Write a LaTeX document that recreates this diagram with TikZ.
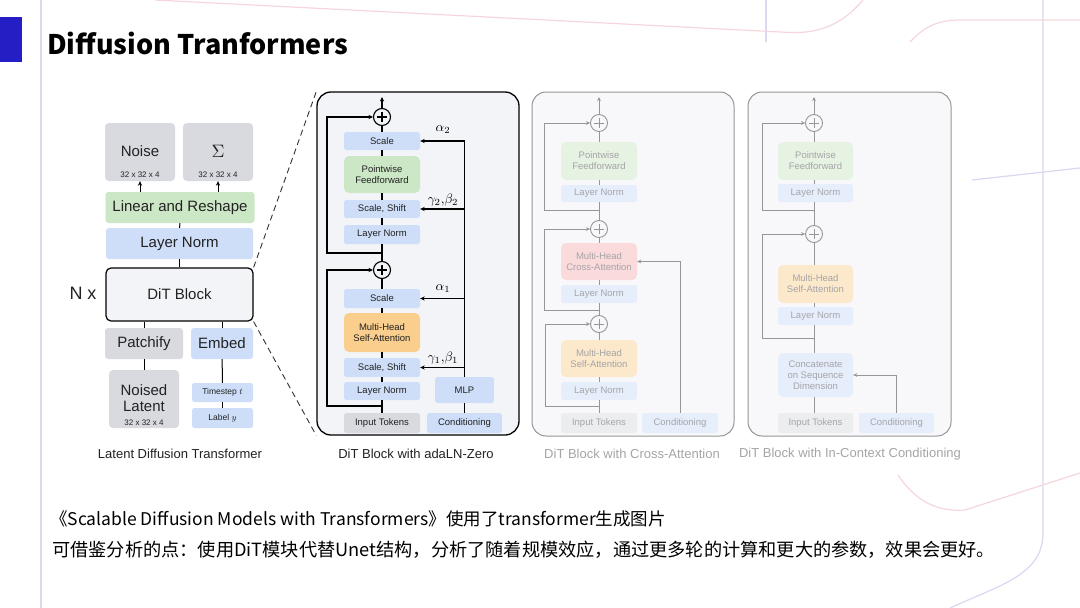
\documentclass[tikz,border=0pt]{standalone}
\usepackage{fontspec}
\usepackage{graphicx}
\usetikzlibrary{arrows.meta}
\newfontfamily\arial{Liberation Sans}
\newfontfamily\cjk{Noto Sans CJK SC}
\definecolor{cgray}{RGB}{216,218,224}
\definecolor{cgreen}{RGB}{204,231,197}
\definecolor{cblue}{RGB}{206,222,248}
\definecolor{corange}{RGB}{250,206,140}
\definecolor{cpanel}{RGB}{243,244,247}
\definecolor{fgray}{RGB}{236,237,239}
\definecolor{fgreen}{RGB}{230,242,226}
\definecolor{fblue}{RGB}{230,238,252}
\definecolor{fred}{RGB}{250,218,218}
\definecolor{forange}{RGB}{252,232,202}
\definecolor{fpanel}{RGB}{248,248,250}
\definecolor{ftext}{RGB}{165,165,168}
\definecolor{fline}{RGB}{150,150,152}
\definecolor{lav}{RGB}{218,216,240}
\definecolor{pinkl}{RGB}{246,214,220}
\definecolor{deepblue}{RGB}{36,30,196}
\definecolor{dtext}{RGB}{34,34,34}
\tikzset{
  sz/.style 2 args={minimum width=#1pt, minimum height=#2pt},
  bx/.style={rounded corners=2.5pt, inner sep=0pt, align=center, text=dtext, font=\arial\fontsize{9.5}{11}\selectfont},
  bigbx/.style={rounded corners=3pt, inner sep=0pt, align=center, text=dtext, font=\arial\fontsize{15}{17}\selectfont},
  ln/.style={line width=1.2pt, draw=black},
  arr/.style={-{Stealth[length=4.5pt,width=4.2pt]}},
  farr/.style={-{Stealth[length=4pt,width=3.8pt]}},
  fln/.style={line width=1pt, draw=fline},
  plus/.style={circle, draw, line width=1.1pt, minimum size=17pt, inner sep=0pt,
    path picture={\draw[line width=1.1pt] ([xshift=-5pt]path picture bounding box.center) -- ([xshift=5pt]path picture bounding box.center);
                  \draw[line width=1.1pt] ([yshift=-5pt]path picture bounding box.center) -- ([yshift=5pt]path picture bounding box.center);}},
  fbx/.style={rounded corners=2.5pt, inner sep=0pt, align=center, text=ftext, font=\arial\fontsize{9.5}{11}\selectfont},
  lbl/.style={inner sep=0pt, font=\fontsize{10}{12}\selectfont},
  captxt/.style={inner sep=0pt, font=\arial\fontsize{13}{15}\selectfont},
}
\begin{document}
\begin{tikzpicture}[x=1pt,y=-1pt]
\useasboundingbox (0,0) rectangle (1080,608);
\fill[white] (0,0) rectangle (1080,608);
% background decoration
\draw[lav, line width=1.2pt] (41,0) -- (41,608);
\draw[lav, line width=1.2pt] (1043,0) -- (1043,533) .. controls (1043,575) and (1000,585) .. (950,608);
\draw[lav, line width=1.2pt] (766,0) -- (766,42);
\draw[lav, line width=1.2pt] (972,180) -- (1080,168);
\draw[pinkl, line width=1.2pt] (155,0) -- (790,32.5) .. controls (830,34) and (850,15) .. (863,0);
\draw[pinkl, line width=1.2pt] (910,42) .. controls (925,26) and (938,20) .. (962,20) -- (1080,20);
\draw[pinkl, line width=1.2pt] (898,475) .. controls (915,500) and (935,512) .. (965,510) -- (1080,473);
\fill[deepblue] (0,17) rectangle (22,62);
% title
\node[anchor=west, inner sep=0pt, font=\cjk\bfseries\fontsize{27}{31}\selectfont, text=black] (title) at (47,43) {Diffusion Tranformers};

% ---------- left diagram ----------
\node[bigbx, fill=cgray, sz={70}{58}, rounded corners=4pt] (noise) at (140,152) {};
\node[inner sep=0pt, font=\arial\fontsize{15}{17}\selectfont, text=dtext] (noiseT) at (140,151) {Noise};
\node[inner sep=0pt, font=\arial\fontsize{8}{9}\selectfont, text=dtext] (noiseD) at (140,175) {32 x 32 x 4};
\node[bigbx, fill=cgray, sz={70}{58}, rounded corners=4pt] (sigma) at (218,152) {};
\node[inner sep=0pt, font=\fontsize{10}{12}\selectfont, text=dtext] (sigmaT) at (218,151) {\scalebox{1.8}{$\Sigma$}};
\node[inner sep=0pt, font=\arial\fontsize{8}{9}\selectfont, text=dtext] (sigmaD) at (218,175) {32 x 32 x 4};
\node[bigbx, fill=cgreen, sz={149}{31}] (lin) at (180,207.5) {Linear and Reshape};
\node[bigbx, fill=cblue, sz={147}{31}] (lnorm) at (179.5,243.5) {Layer Norm};
\node[bigbx, fill=cpanel, draw=black, line width=1.2pt, rounded corners=5pt, sz={147}{53}] (dit) at (179.5,294.5) {DiT Block};
\node[inner sep=0pt, font=\arial\fontsize{18}{20}\selectfont, text=dtext] (nx) at (83,293) {N x};
\node[bigbx, fill=cgray, sz={78}{31}] (patch) at (144,343.5) {Patchify};
\node[bigbx, fill=cblue, sz={62}{31}] (embed) at (222,343.5) {Embed};
\node[bigbx, fill=cgray, sz={70}{58}, rounded corners=4pt] (noised) at (144,399) {};
\node[inner sep=0pt, font=\arial\fontsize{15}{17}\selectfont, text=dtext, align=center] (noisedT) at (144,398) {Noised\\[-1.5pt]Latent};
\node[inner sep=0pt, font=\arial\fontsize{8}{9}\selectfont, text=dtext] (noisedD) at (144,423) {32 x 32 x 4};
\node[bx, fill=cblue, sz={61}{19}, font=\arial\fontsize{8.5}{10}\selectfont] (tstep) at (222.5,392.5) {Timestep \scalebox{1.1}{$t$}};
\node[bx, fill=cblue, sz={61}{20}, font=\arial\fontsize{8.5}{10}\selectfont] (label) at (222.5,418) {Label \scalebox{1.1}{$y$}};
\node[captxt, text=dtext] (capL) at (180,454) {Latent Diffusion Transformer};

\draw[ln, line width=1pt, arr] (lin.north -| noise) -- (noise.south);
\draw[ln, line width=1pt, arr] (lin.north -| sigma) -- (sigma.south);
\draw[ln, line width=1pt] (lnorm) -- (lin);
\draw[ln, line width=1pt] (dit) -- (lnorm);
\draw[ln, line width=1pt] (dit.south -| patch) -- (patch.north);
\draw[ln, line width=1pt] (dit.south -| embed) -- (embed.north);
\draw[ln, line width=1pt] (patch) -- (noised);
\draw[ln, line width=1pt] (embed) -- (tstep);
\draw[ln, line width=1pt] (tstep) -- (label);

% ---------- middle panel ----------
\node[draw=black, line width=1.3pt, fill=cpanel, rounded corners=14pt, sz={202}{343}] (pa) at (418,263.5) {};
\draw[dashed, dash pattern=on 6pt off 4pt, line width=0.9pt, draw=black!80] (dit.north east) -- (pa.north west);
\draw[dashed, dash pattern=on 6pt off 4pt, line width=0.9pt, draw=black!80] (dit.south east) -- (pa.south west);
\coordinate (topA) at (382,97);
\node[plus, fill=cpanel] (p1) at (382,117) {};
\node[bx, fill=cblue, sz={76}{18}] (sc2) at (382,141) {Scale};
\node[bx, fill=cgreen, sz={76}{37}, rounded corners=5pt] (ff) at (382,174.5) {Pointwise\\Feedforward};
\node[bx, fill=cblue, sz={76}{18}] (ss2) at (382,209) {Scale, Shift};
\node[bx, fill=cblue, sz={76}{19}] (ln2) at (382,234.5) {Layer Norm};
\node[plus, fill=cpanel] (p2) at (382,270) {};
\node[bx, fill=cblue, sz={76}{19}] (sc1) at (382,298.5) {Scale};
\node[bx, fill=corange, sz={76}{39}, rounded corners=5pt] (mhsa) at (382,332.5) {Multi-Head\\Self-Attention};
\node[bx, fill=cblue, sz={76}{19}] (ss1) at (382,367.5) {Scale, Shift};
\node[bx, fill=cblue, sz={76}{18}] (ln1) at (382,391) {Layer Norm};
\node[bx, fill=cgray, sz={76}{20}] (inA) at (382,423) {Input Tokens};
\node[bx, fill=cblue, sz={75}{20}] (condA) at (464.5,423) {Conditioning};
\node[bx, fill=cblue, sz={59}{26}] (mlp) at (464.5,390) {MLP};
\node[captxt, text=dtext] (capA) at (416,454) {DiT Block with adaLN-Zero};

\draw[ln] (inA) -- (ln1);
\draw[ln] (ln1) -- (ss1);
\draw[ln] (ss1) -- (mhsa);
\draw[ln] (mhsa) -- (sc1);
\draw[ln] (sc1) -- (p2);
\draw[ln] (p2) -- (ln2);
\draw[ln] (ln2) -- (ss2);
\draw[ln] (ss2) -- (ff);
\draw[ln] (ff) -- (sc2);
\draw[ln] (sc2) -- (p1);
\draw[ln, arr] (p1) -- (topA);
\coordinate (rA1) at (382,406);
\coordinate (rA2) at (382,253);
\draw[ln, arr] (rA1) -- ++(-55,0) |- (p2.west);
\draw[ln, arr] (rA2) -- ++(-55,0) |- (p1.west);
\draw[ln] (condA) -- (mlp);
\draw[ln, arr] (mlp.north) |- (sc2.east);
\draw[ln, arr] (mlp.north |- ss2.east) -- (ss2.east);
\draw[ln, arr] (mlp.north |- sc1.east) -- (sc1.east);
\draw[ln, arr] (mlp.north |- ss1.east) -- (ss1.east);
\node[lbl] (a2) at (443,130) {\scalebox{1.35}{$\alpha_2$}};
\node[lbl] (gb2) at (443,200) {\scalebox{1.35}{$\gamma_2{,}\beta_2$}};
\node[lbl] (a1) at (443,289) {\scalebox{1.35}{$\alpha_1$}};
\node[lbl] (gb1) at (443,358) {\scalebox{1.35}{$\gamma_1{,}\beta_1$}};

% ---------- cross-attention panel ----------
\node[draw=fline, line width=1pt, fill=fpanel, rounded corners=14pt, sz={202}{344}] (pb) at (633,264) {};
\coordinate (topB) at (599,97);
\node[plus, fill=fpanel, draw=fline, line width=0.9pt, path picture={}] (q1) at (599,123) {};
\node[fbx, fill=fgreen, sz={76}{38}, rounded corners=5pt] (cff) at (599,161) {Pointwise\\Feedforward};
\node[fbx, fill=fblue, sz={76}{17}] (cln2) at (599,193.5) {Layer Norm};
\node[plus, fill=fpanel, draw=fline, line width=0.9pt, path picture={}] (q2) at (599,229) {};
\node[fbx, fill=fred, sz={76}{37}, rounded corners=5pt] (cca) at (599,261.5) {Multi-Head\\Cross-Attention};
\node[fbx, fill=fblue, sz={76}{18}] (cln1) at (599,294) {Layer Norm};
\node[plus, fill=fpanel, draw=fline, line width=0.9pt, path picture={}] (q3) at (599,324) {};
\node[fbx, fill=forange, sz={76}{37}, rounded corners=5pt] (csa) at (599,358.5) {Multi-Head\\Self-Attention};
\node[fbx, fill=fblue, sz={76}{18}] (cln0) at (599,391) {Layer Norm};
\node[fbx, fill=fgray, sz={76}{20}] (cin) at (599,423) {Input Tokens};
\node[fbx, fill=fblue, sz={76}{20}] (ccond) at (680,423) {Conditioning};
\node[captxt, text=ftext] (capB) at (632,454) {DiT Block with Cross-Attention};
\foreach \q in {q1,q2,q3}{
  \draw[fline, line width=0.9pt] ([xshift=-5pt]\q.center) -- ([xshift=5pt]\q.center);
  \draw[fline, line width=0.9pt] ([yshift=-5pt]\q.center) -- ([yshift=5pt]\q.center);
}
\draw[fln] (cin) -- (cln0);
\draw[fln] (cln0) -- (csa);
\draw[fln] (csa) -- (q3);
\draw[fln] (q3) -- (cln1);
\draw[fln] (cln1) -- (cca);
\draw[fln] (cca) -- (q2);
\draw[fln] (q2) -- (cln2);
\draw[fln] (cln2) -- (cff);
\draw[fln] (cff) -- (q1);
\draw[fln, farr] (q1) -- (topB);
\coordinate (rB1) at (599,406);
\coordinate (rB2) at (599,310);
\coordinate (rB3) at (599,210);
\draw[fln, farr] (rB1) -- ++(-54,0) |- (q3.west);
\draw[fln, farr] (rB2) -- ++(-55,0) |- (q2.west);
\draw[fln, farr] (rB3) -- ++(-55,0) |- (q1.west);
\draw[fln, farr] (ccond.north) |- (cca.east);

% ---------- in-context panel ----------
\node[draw=fline, line width=1pt, fill=fpanel, rounded corners=14pt, sz={203}{344}] (pc) at (849.5,264) {};
\coordinate (topC) at (814,97);
\node[plus, fill=fpanel, draw=fline, line width=0.9pt, path picture={}] (s1) at (814,123) {};
\node[fbx, fill=fgreen, sz={75}{38}, rounded corners=5pt] (iff) at (815.5,161) {Pointwise\\Feedforward};
\node[fbx, fill=fblue, sz={75}{18}] (iln2) at (815.5,193) {Layer Norm};
\node[plus, fill=fpanel, draw=fline, line width=0.9pt, path picture={}] (s2) at (814,234) {};
\node[fbx, fill=forange, sz={75}{38}, rounded corners=5pt] (isa) at (815.5,284) {Multi-Head\\Self-Attention};
\node[fbx, fill=fblue, sz={75}{18}] (iln1) at (815.5,316) {Layer Norm};
\node[fbx, fill=fblue, sz={75}{44}, rounded corners=5pt] (icat) at (815.5,375) {Concatenate\\on Sequence\\Dimension};
\node[fbx, fill=fgray, sz={75}{20}] (iin) at (815.5,423) {Input Tokens};
\node[fbx, fill=fblue, sz={75}{20}] (icond) at (896.5,423) {Conditioning};
\node[captxt, text=ftext] (capC) at (850,454) {DiT Block with In-Context Conditioning};
\foreach \q in {s1,s2}{
  \draw[fline, line width=0.9pt] ([xshift=-5pt]\q.center) -- ([xshift=5pt]\q.center);
  \draw[fline, line width=0.9pt] ([yshift=-5pt]\q.center) -- ([yshift=5pt]\q.center);
}
\draw[fln] (iin.north -| s1) -- (icat.south -| s1);
\draw[fln] (icat.north -| s1) -- (iln1.south -| s1);
\draw[fln] (iln1.north -| s1) -- (isa.south -| s1);
\draw[fln] (isa.north -| s1) -- (s2);
\draw[fln] (s2) -- (iln2.south -| s1);
\draw[fln] (iln2.north -| s1) -- (iff.south -| s1);
\draw[fln] (iff.north -| s1) -- (s1);
\draw[fln, farr] (s1) -- (topC);
\coordinate (rC1) at (814,338);
\coordinate (rC2) at (814,210);
\draw[fln, farr] (rC1) -- ++(-52,0) |- (s2.west);
\draw[fln, farr] (rC2) -- ++(-52,0) |- (s1.west);
\draw[fln, farr] (icond.north) |- (icat.east);

% ---------- bottom text ----------
\node[anchor=west, inner sep=0pt, font=\cjk\fontsize{17.5}{20}\selectfont, text=black] (t1) at (50,519) {《Scalable Diffusion Models with Transformers》使用了transformer生成图片};
\node[anchor=west, inner sep=0pt, font=\cjk\fontsize{18.2}{20}\selectfont, text=black] (t2) at (52,550) {可借鉴分析的点：使用DiT模块代替Unet结构，分析了随着规模效应，通过更多轮的计算和更大的参数，效果会更好。};
\end{tikzpicture}
\end{document}
